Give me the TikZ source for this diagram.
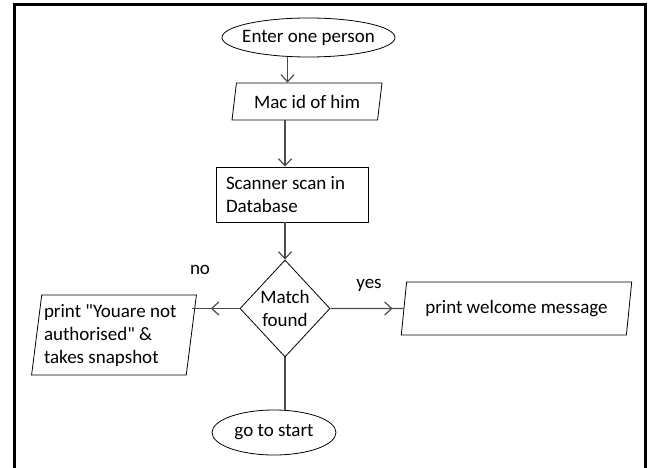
\documentclass[tikz,border=0pt]{standalone}
\usepackage{fontspec}
\setmainfont{Carlito}
\usetikzlibrary{positioning,shapes.geometric,arrows.meta,decorations.markings}

\tikzset{
  flow/.style={draw=black!70, line width=1.2pt},
  tip/.style={-{Straight Barb[length=7pt,width=13pt]}},
  midarrow/.style={postaction={decorate,decoration={markings,
      mark=at position #1 with {\arrow{Straight Barb[length=7pt,width=13pt]}}}}},
  terminal/.style={ellipse, draw, line width=0.8pt, inner sep=0pt, align=center},
  io/.style={trapezium, draw, line width=0.8pt, trapezium stretches=true,
      trapezium right angle=180-#1, trapezium left angle=#1, inner sep=0pt},
  process/.style={rectangle, draw, line width=0.8pt, inner xsep=10pt, align=flush left},
  decision/.style={diamond, draw, line width=0.8pt, inner sep=0pt, align=center},
}

\begin{document}
\begin{tikzpicture}[x=1pt,y=-1pt,font=\fontsize{19}{23}\selectfont]
    \useasboundingbox (0,0) rectangle (648,468);
    \draw[line width=3pt] (14.5,468) -- (14.5,5) -- (645.5,5) -- (645.5,468);

    \node[terminal, minimum width=173pt, minimum height=39pt, inner xsep=-8pt]
          (enter)   at (308.5,37.5) {Enter one person};
    \node[io=76, minimum width=150pt, minimum height=37pt]
          (mac)     at (307,101.5)  {Mac id of him};
    \node[process, text width=132pt, minimum height=55pt]
          (scan)    at (292,194.5)  {Scanner scan in\\Database};
    \node[decision, minimum width=90pt, minimum height=97pt]
          (match)   at (285,308.5)  {Match\\found};
    \node[io=81, minimum width=165pt, minimum height=80pt, text width=140pt, align=flush left]
          (fail)    at (114,335)  {print \textquotedbl Youare not\\authorised\textquotedbl{} \&\\takes snapshot};
    \node[io=75, minimum width=231pt, minimum height=53pt]
          (welcome) at (516.5,308.5) {print welcome message};
    \node[terminal, minimum width=124pt, minimum height=45pt]
          (restart) at (274,432.5)  {go to start};

    \node (no)  at (200,270) {no};
    \node (yes) at (369,285) {yes};

    \draw[flow,tip] ([xshift=-21pt]enter.south) -- ([xshift=-21pt]enter.south |- mac.north);
    \draw[flow,tip] ([xshift=-22pt]mac.south) -- ([xshift=-22pt]mac.south |- scan.north);
    \draw[flow,tip] (scan.south -| match.north) -- (match.north);
    \draw[flow,midarrow=0.6]  (match.west) -- (match.west -| fail.east);
    \draw[flow,midarrow=0.85] (match.east) -- (welcome.west);
    \draw[flow] (match.south) -- (match.south |- restart.north);
\end{tikzpicture}
\end{document}
